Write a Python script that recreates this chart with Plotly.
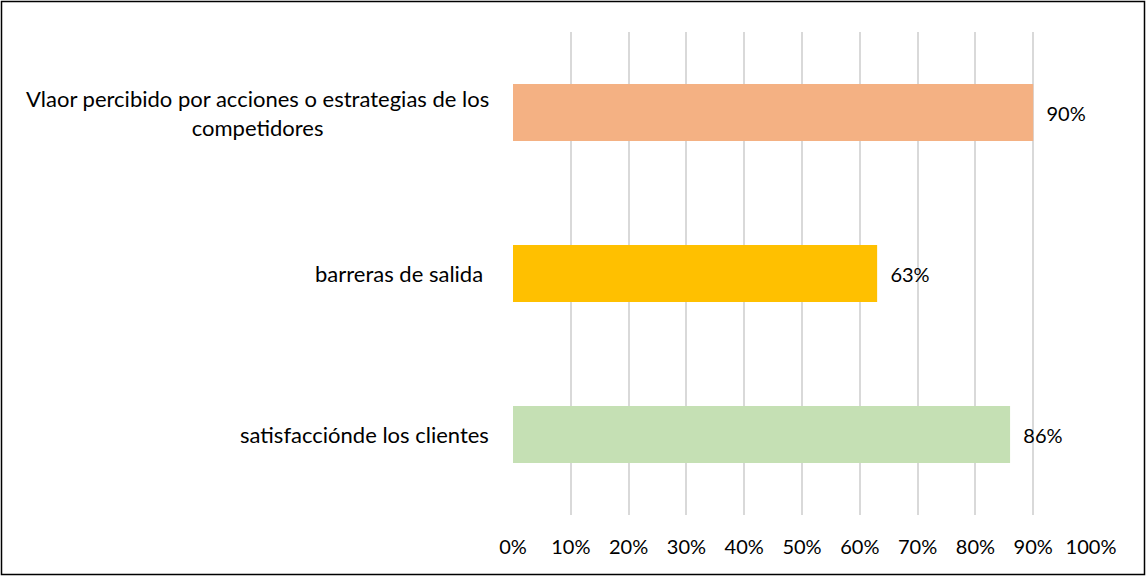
import plotly.graph_objects as go

categories = ["satisfacciónde los clientes", "barreras de salida ",
              "Vlaor percibido por acciones o estrategias de los<br>competidores"]
values = [0.86, 0.63, 0.90]
colors = ["#C5E0B4", "#FFC000", "#F4B183"]
tick_vals = [i / 10 for i in range(11)]
tick_text = [f"{i*10}%" for i in range(11)]

W, H = 1147, 577
ml, mr, mt, mb = 513, 56, 32, 62
pw, ph = W - ml - mr, H - mt - mb
FONT = "Lato, Open Sans, sans-serif"

fig = go.Figure()
fig.add_trace(go.Bar(
    x=values, y=categories, orientation="h",
    marker=dict(color=colors, line=dict(width=0)),
    text=[f"{round(v*100)}%" for v in values],
    texttemplate="\u00a0\u00a0%{text}",
    textposition="outside", cliponaxis=False,
    textfont=dict(size=20, color="#000000", family=FONT),
    width=0.355,
))

for c in categories:
    fig.add_annotation(x=0, xref="paper", y=c, yref="y", text=c,
                       xanchor="right", yanchor="middle", align="center",
                       xshift=-22, showarrow=False,
                       font=dict(size=22, color="#000000", family=FONT))

fig.add_shape(type="rect", xref="paper", yref="paper",
              x0=(1.5 - ml) / pw, x1=(W - 2.5 - ml) / pw,
              y0=-(mb - 2.5) / ph, y1=1 + (mt - 1.5) / ph,
              line=dict(color="#000000", width=1.5), fillcolor="rgba(0,0,0,0)")

fig.update_layout(
    width=W, height=H,
    margin=dict(l=ml, r=mr, t=mt, b=mb),
    paper_bgcolor="white", plot_bgcolor="white",
    showlegend=False,
    font=dict(family=FONT, size=20, color="#000000"),
    xaxis=dict(range=[0, 1], tickvals=tick_vals, ticktext=tick_text,
               showgrid=True, gridcolor="#D9D9D9", gridwidth=1.5,
               zeroline=False, showline=False,
               ticks="outside", ticklen=14, tickcolor="rgba(0,0,0,0)",
               tickfont=dict(size=20, family=FONT)),
    yaxis=dict(categoryorder="array", categoryarray=categories,
               showticklabels=False, showgrid=False, zeroline=False,
               range=[-0.5, 2.5]),
)

fig.write_html("out.html", config={"displayModeBar": False},
               post_script="document.body.style.margin='0';")
